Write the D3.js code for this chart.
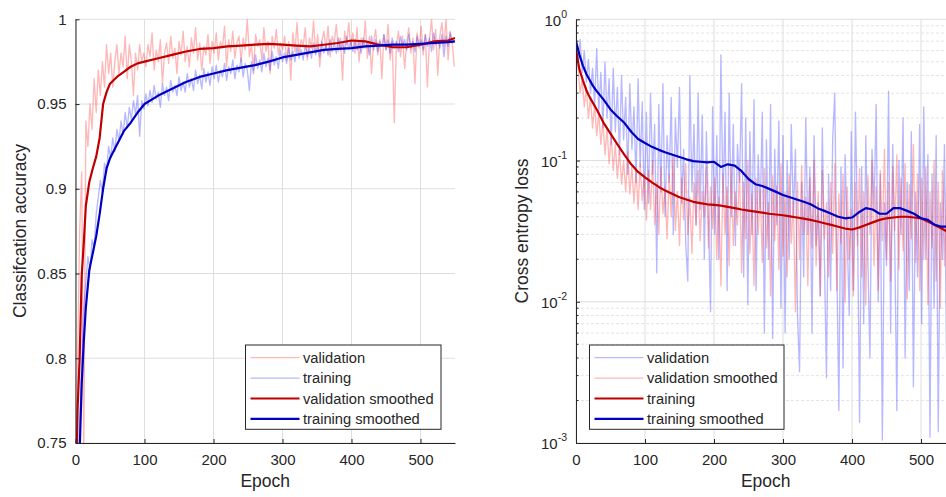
<!DOCTYPE html>
<html>
<head>
<meta charset="utf-8">
<script src="https://cdn.jsdelivr.net/npm/d3@7/dist/d3.min.js"></script>
<style>
  html, body { margin: 0; padding: 0; background: #fff; }
  svg { display: block; font-family: "Liberation Sans", Arial, sans-serif; }
</style>
</head>
<body>
<svg id="chart" width="946" height="497"></svg>
<script>
// ---------------- DATA ----------------
const epochStep = 3; // raw series sampled every 3 epochs, starting at epoch 0

// Left panel: classification accuracy
const accValidation = [
  0.62,0.80,0.875,0.91,0.74,0.94,0.925,0.95,0.935,0.965,
  0.945,0.97,0.955,0.975,0.96,0.985,0.968,0.98,0.96,0.975,
  0.985,0.968,0.98,0.972,0.99,0.965,0.985,0.975,0.955,0.98,
  0.97,0.985,0.975,0.98,
  0.972,0.985,0.978,0.992,0.970,0.982,0.975,0.988,0.962,0.980,0.986,0.974,0.990,0.977,0.983,0.968,0.987,0.979,0.993,0.975,0.984,0.972,0.989,0.980,0.995,0.976,0.986,0.970,0.984,0.979,0.991,0.974,0.987,
  0.980,0.992,0.976,0.987,0.983,0.996,0.972,0.988,0.981,0.993,0.977,0.986,0.990,0.975,0.989,0.982,1.000,0.978,0.985,0.970,0.991,0.984,0.988,0.976,0.995,0.981,0.987,0.968,0.990,0.983,0.994,0.979,0.986,0.982,
  0.990,0.976,0.987,0.964,0.992,0.981,0.998,0.979,0.988,0.984,0.995,0.976,0.989,0.983,0.999,0.980,0.991,0.972,0.987,0.993,0.982,0.996,0.978,0.990,0.986,0.997,0.981,0.989,0.964,0.993,0.985,0.998,0.983,
  0.992,0.980,0.995,0.975,0.989,0.983,0.999,0.977,0.990,0.968,0.986,0.994,0.979,0.988,0.965,0.991,0.982,0.997,0.976,0.987,0.939,0.984,0.993,0.978,0.990,0.971,0.986,0.995,0.980,0.989,0.962,0.992,0.983,
  0.996,0.979,0.991,0.960,0.988,1.000,0.982,0.994,0.967,0.990,0.998,0.984,1.000,0.976,0.993,0.986,0.972
];
const accTraining = [
  0.55,0.70,0.76,0.80,0.83,0.845,0.86,0.852,0.87,0.865,
  0.885,0.895,0.905,0.898,0.915,0.91,0.925,0.918,0.93,0.922,
  0.935,0.928,0.94,0.932,0.945,0.936,0.948,0.941,0.952,0.944,
  0.955,0.931,0.952,0.947,
  0.956,0.949,0.958,0.951,0.961,0.953,0.957,0.948,0.962,0.955,0.960,0.952,0.964,0.957,0.961,0.955,0.966,0.958,0.963,0.957,0.968,0.960,0.965,0.958,0.970,0.962,0.967,0.959,0.971,0.963,0.969,0.961,0.972,
  0.965,0.973,0.963,0.970,0.966,0.974,0.964,0.972,0.968,0.976,0.965,0.973,0.969,0.977,0.966,0.974,0.970,0.958,0.975,0.968,0.979,0.971,0.976,0.969,0.980,0.972,0.977,0.970,0.981,0.973,0.978,0.971,0.982,0.975,
  0.980,0.974,0.983,0.976,0.981,0.975,0.984,0.977,0.982,0.976,0.985,0.978,0.983,0.977,0.986,0.979,0.984,0.978,0.987,0.980,0.985,0.979,0.988,0.981,0.986,0.980,0.989,0.982,0.986,0.980,0.990,0.982,0.987,
  0.981,0.988,0.982,0.987,0.980,0.989,0.983,0.986,0.979,0.990,0.982,0.988,0.981,0.987,0.984,0.991,0.982,0.988,0.980,0.989,0.983,0.987,0.981,0.990,0.984,0.988,0.982,0.991,0.983,0.987,0.981,0.990,0.984,
  0.988,0.982,0.991,0.984,0.989,0.981,0.992,0.985,0.988,0.983,0.991,0.978,0.990,0.984,0.992,0.986,0.989
];
const accSmoothEpochs = [0,3,6,9,12,15,20,25,30,35,40,45,50,60,70,80,90,100,120,140,160,180,200,220,240,260,280,300,320,340,360,380,400,420,440,460,480,500,520,540,550];
const accValidationSmoothed = [0.70,0.77,0.80,0.849,0.868,0.89,0.904,0.912,0.919,0.93,0.95,0.957,0.962,0.966,0.969,0.972,0.974,0.975,0.977,0.979,0.981,0.9825,0.983,0.984,0.9845,0.985,0.9855,0.985,0.9845,0.984,0.985,0.986,0.9875,0.987,0.985,0.9835,0.9835,0.985,0.987,0.9875,0.989];
const accTrainingSmoothed = [0.62,0.70,0.745,0.785,0.81,0.83,0.852,0.862,0.872,0.885,0.90,0.912,0.918,0.926,0.934,0.939,0.945,0.950,0.955,0.959,0.963,0.966,0.968,0.970,0.9715,0.973,0.975,0.9775,0.979,0.9805,0.982,0.9825,0.983,0.984,0.9845,0.985,0.985,0.9855,0.986,0.9865,0.987];

// Right panel: cross entropy loss
const lossValidation = [
  0.70,0.50,0.72,0.42,0.60,0.36,0.52,0.30,0.45,0.25,
  0.62,0.22,0.42,0.17,0.50,0.20,0.38,0.13,0.45,0.16,
  0.33,0.11,0.40,0.14,0.28,0.08,0.35,0.12,0.24,0.07,
  0.38,0.09,0.26,0.045,
  0.22,0.05,0.30,0.08,0.18,0.016,0.25,0.06,0.35,0.04,0.15,0.07,0.28,0.03,0.20,0.09,0.33,0.05,0.12,0.026,0.014,0.40,0.06,0.18,0.035,0.30,0.045,0.21,0.02,0.16,0.04,0.0085,0.24,
  0.03,0.15,0.02,0.56,0.05,0.22,0.012,0.30,0.04,0.18,0.025,0.13,0.07,0.35,0.015,0.20,0.0095,0.16,0.03,0.27,0.012,0.11,0.045,0.22,0.006,0.14,0.02,0.25,0.0055,0.12,0.035,0.19,0.009,0.15,
  0.006,0.10,0.02,0.18,0.04,0.12,0.008,0.0032,0.07,0.015,0.20,0.03,0.09,0.006,0.15,0.025,0.05,0.011,0.17,0.02,0.0029,0.08,0.012,0.14,0.30,0.018,0.0017,0.09,0.0034,0.11,0.03,0.008,0.16,
  0.012,0.22,0.035,0.0014,0.09,0.007,0.15,0.02,0.004,0.12,0.045,0.25,0.01,0.08,0.00105,0.05,0.018,0.31,0.006,0.13,0.025,0.0017,0.10,0.03,0.20,0.004,0.07,0.012,0.16,0.0025,0.06,0.015,0.18,
  0.007,0.24,0.02,0.11,0.0011,0.08,0.009,0.15,0.0012,0.05,0.02,0.13,0.004,0.09,0.015,0.20,0.006
];
const lossValidationSmoothed = [
  0.60,0.45,0.30,0.38,0.24,0.33,0.20,0.28,0.17,0.25,
  0.15,0.22,0.13,0.19,0.11,0.17,0.095,0.15,0.085,0.13,
  0.075,0.12,0.068,0.10,0.06,0.115,0.058,0.09,0.05,0.085,
  0.045,0.095,0.052,0.08,
  0.038,0.085,0.045,0.10,0.035,0.07,0.03,0.09,0.042,0.065,0.028,0.08,0.04,0.11,0.032,0.06,0.025,0.075,0.038,0.095,0.03,0.055,0.022,0.07,0.035,0.085,0.027,0.06,0.04,0.09,0.024,0.065,0.033,
  0.075,0.02,0.055,0.013,0.08,0.03,0.065,0.018,0.09,0.025,0.06,0.035,0.085,0.016,0.07,0.028,0.1,0.022,0.058,0.013,0.075,0.03,0.062,0.019,0.088,0.024,0.05,0.011,0.078,0.027,0.066,0.017,0.095,0.021,
  0.06,0.015,0.08,0.026,0.052,0.0085,0.07,0.02,0.092,0.03,0.055,0.013,0.075,0.024,0.1,0.018,0.06,0.011,0.085,0.028,0.05,0.015,0.07,0.022,0.095,0.012,0.058,0.026,0.08,0.01,0.065,0.02,0.045,
  0.011,0.07,0.025,0.088,0.015,0.06,0.0095,0.078,0.03,0.1,0.018,0.065,0.012,0.085,0.027,0.12,0.02,0.07,0.014,0.09,0.032,0.11,0.017,0.075,0.023,0.095,0.0105,0.068,0.028,0.13,0.019,0.08,0.012,
  0.075,0.02,0.09,0.0095,0.06,0.024,0.1,0.014,0.07,0.009,0.085,0.018,0.065,0.011,0.078,0.022,0.06
];
const lossSmoothEpochs = [0,5,10,15,20,25,30,40,50,60,70,80,90,100,110,120,130,140,150,160,170,180,190,200,210,220,230,240,250,260,270,280,290,300,310,320,330,340,350,360,370,380,390,400,410,420,430,440,450,460,470,480,490,500,510,520,530,540,550];
const lossTraining = [0.61,0.44,0.37,0.315,0.28,0.254,0.23,0.185,0.155,0.13,0.11,0.094,0.083,0.076,0.070,0.065,0.061,0.058,0.055,0.053,0.051,0.050,0.049,0.0485,0.048,0.047,0.046,0.045,0.0442,0.0435,0.0428,0.042,0.0415,0.041,0.0402,0.0395,0.0388,0.038,0.037,0.036,0.035,0.034,0.033,0.0325,0.0335,0.035,0.0365,0.038,0.039,0.0395,0.040,0.040,0.0395,0.039,0.037,0.035,0.033,0.031,0.030];
const lossTrainingSmoothed = [0.70,0.56,0.47,0.41,0.37,0.335,0.31,0.27,0.23,0.205,0.185,0.16,0.142,0.133,0.125,0.119,0.114,0.110,0.106,0.102,0.099,0.098,0.097,0.098,0.090,0.094,0.092,0.084,0.074,0.068,0.066,0.063,0.060,0.057,0.055,0.053,0.051,0.049,0.046,0.044,0.042,0.040,0.039,0.0395,0.043,0.046,0.045,0.042,0.042,0.046,0.046,0.044,0.042,0.039,0.038,0.035,0.034,0.034,0.033];

const epochTicks = [0,100,200,300,400,500];
const accTicks = [0.75,0.8,0.85,0.9,0.95,1];
const lossTicks = [0.001,0.01,0.1,1];
const accLegend = ["validation","training","validation smoothed","training smoothed"];
const lossLegend = ["validation","validation smoothed","training","training smoothed"];

// ---------------- STYLE ----------------
const C = {
  axis: "#262626",
  grid: "#dedede",
  minor: "#e4e4e4",
  rawRed: "rgba(255,40,40,0.33)",
  rawBlue: "rgba(40,40,255,0.33)",
  red: "#c00000",
  blue: "#0000c0"
};
const RAW_W = 1.35, SM_W = 2.2;
const svg = d3.select("#chart");

function panel(opt) {
  const g = svg.append("g");
  const x = d3.scaleLinear().domain([0, 550]).range([opt.left, opt.left + 379.5]);
  const y = opt.log
    ? d3.scaleLog().domain([0.001, 1]).range([443, 19.3])
    : d3.scaleLinear().domain([0.75, 1]).range([443, 19.3]);
  const clipId = "clip" + opt.id;
  svg.append("clipPath").attr("id", clipId).append("rect")
    .attr("x", opt.left).attr("y", 19.3).attr("width", 379.5).attr("height", 443 - 19.3);

  // grid
  const grid = g.append("g");
  if (opt.log) {
    const minors = [];
    [0.001, 0.01, 0.1].forEach(d => { for (let k = 2; k <= 9; k++) minors.push(d * k); });
    grid.selectAll("line.minor").data(minors).join("line").attr("class", "minor")
      .attr("x1", opt.left).attr("x2", opt.left + 379.5)
      .attr("y1", d => y(d)).attr("y2", d => y(d))
      .attr("stroke", C.minor).attr("stroke-dasharray", "3,2").attr("stroke-width", 1);
  }
  grid.selectAll("line.hy").data(opt.yTicks).join("line").attr("class", "hy")
    .attr("x1", opt.left).attr("x2", opt.left + 379.5)
    .attr("y1", d => y(d)).attr("y2", d => y(d))
    .attr("stroke", C.grid).attr("stroke-width", 1);
  grid.selectAll("line.vx").data(epochTicks).join("line").attr("class", "vx")
    .attr("x1", d => x(d)).attr("x2", d => x(d))
    .attr("y1", 19.3).attr("y2", 443)
    .attr("stroke", C.grid).attr("stroke-width", 1);

  // series
  const plot = g.append("g").attr("clip-path", `url(#${clipId})`);
  const rawLine = d3.line().x((d, i) => x(i * epochStep)).y(d => y(d));
  const smLine = (ep) => d3.line().x((d, i) => x(ep[i])).y(d => y(d)).curve(d3.curveLinear);
  opt.series.forEach(s => {
    plot.append("path").datum(s.data)
      .attr("d", s.raw ? rawLine : smLine(s.epochs))
      .attr("fill", "none").attr("stroke", s.color)
      .attr("stroke-width", s.raw ? RAW_W : SM_W)
      .attr("stroke-linejoin", "round");
  });

  // axes
  const xAxis = d3.axisBottom(x).tickValues(epochTicks).tickSizeInner(-4).tickSizeOuter(0).tickPadding(11);
  const gx = g.append("g").attr("transform", "translate(0,443)").call(xAxis);
  const yAxis = d3.axisLeft(y).tickValues(opt.yTicks).tickSizeInner(-4).tickSizeOuter(0).tickPadding(9)
    .tickFormat(opt.log ? () => "" : d => d3.format("")(d));
  const gy = g.append("g").attr("transform", `translate(${opt.left},0)`).call(yAxis);
  [gx, gy].forEach(a => {
    a.select(".domain").attr("stroke", C.axis).attr("stroke-width", 1);
    a.selectAll(".tick line").attr("stroke", C.axis);
    a.selectAll(".tick text").attr("fill", C.axis).attr("font-size", 15)
      .attr("font-family", "Liberation Sans, Arial, sans-serif");
  });
  gx.selectAll(".tick text").attr("dy", "0.71em");
  if (opt.log) {
    gy.selectAll(".tick").each(function (d) {
      const t = d3.select(this).select("text");
      t.text(null).attr("dy", "0.38em");
      t.append("tspan").text("10");
      t.append("tspan").attr("font-size", 10.5).attr("dy", "-0.75em").text(String(Math.round(Math.log10(d))));
    });
    const minorT = [];
    [0.001, 0.01, 0.1].forEach(d => { for (let k = 2; k <= 9; k++) minorT.push(d * k); });
    g.selectAll("line.mt").data(minorT).join("line").attr("class", "mt")
      .attr("x1", opt.left).attr("x2", opt.left + 2.5)
      .attr("y1", d => y(d)).attr("y2", d => y(d)).attr("stroke", C.axis);
  }

  // axis labels
  g.append("text").attr("x", opt.left + 189.75).attr("y", 487)
    .attr("text-anchor", "middle").attr("font-size", 17.5).attr("fill", C.axis).text("Epoch");
  g.append("text").attr("transform", `translate(${opt.ylabelX},231) rotate(-90)`)
    .attr("text-anchor", "middle").attr("dominant-baseline", "central")
    .attr("font-size", 17.5).attr("fill", C.axis).text(opt.ylabel);

  // legend
  const L = opt.legend;
  const lg = g.append("g");
  lg.append("rect").attr("x", L.x).attr("y", 345).attr("width", L.w).attr("height", 84.3)
    .attr("fill", "#fff").attr("stroke", C.axis).attr("stroke-width", 1);
  opt.legendItems.forEach((it, i) => {
    const yy = 357.6 + i * 20.45;
    lg.append("line").attr("x1", L.x + 5).attr("x2", L.x + 54).attr("y1", yy).attr("y2", yy)
      .attr("stroke", it.color).attr("stroke-width", it.raw ? RAW_W : SM_W);
    lg.append("text").attr("x", L.x + 57.5).attr("y", yy).attr("dominant-baseline", "central")
      .attr("font-size", 14.7).attr("fill", C.axis).text(it.label);
  });
}

panel({
  id: "acc", left: 75.5, log: false, yTicks: accTicks, ylabel: "Classifcation accuracy", ylabelX: 20,
  series: [
    { data: accValidation, raw: true, color: C.rawRed },
    { data: accTraining, raw: true, color: C.rawBlue },
    { data: accValidationSmoothed, epochs: accSmoothEpochs, color: C.red },
    { data: accTrainingSmoothed, epochs: accSmoothEpochs, color: C.blue }
  ],
  legend: { x: 245.5, w: 195.5 },
  legendItems: [
    { label: accLegend[0], color: C.rawRed, raw: true },
    { label: accLegend[1], color: C.rawBlue, raw: true },
    { label: accLegend[2], color: C.red },
    { label: accLegend[3], color: C.blue }
  ]
});

panel({
  id: "loss", left: 576, log: true, yTicks: lossTicks, ylabel: "Cross entropy loss", ylabelX: 522,
  series: [
    { data: lossValidation, raw: true, color: C.rawBlue },
    { data: lossValidationSmoothed, raw: true, color: C.rawRed },
    { data: lossTraining, epochs: lossSmoothEpochs, color: C.red },
    { data: lossTrainingSmoothed, epochs: lossSmoothEpochs, color: C.blue }
  ],
  legend: { x: 589.5, w: 194.5 },
  legendItems: [
    { label: lossLegend[0], color: C.rawBlue, raw: true },
    { label: lossLegend[1], color: C.rawRed, raw: true },
    { label: lossLegend[2], color: C.red },
    { label: lossLegend[3], color: C.blue }
  ]
});
</script>
</body>
</html>
